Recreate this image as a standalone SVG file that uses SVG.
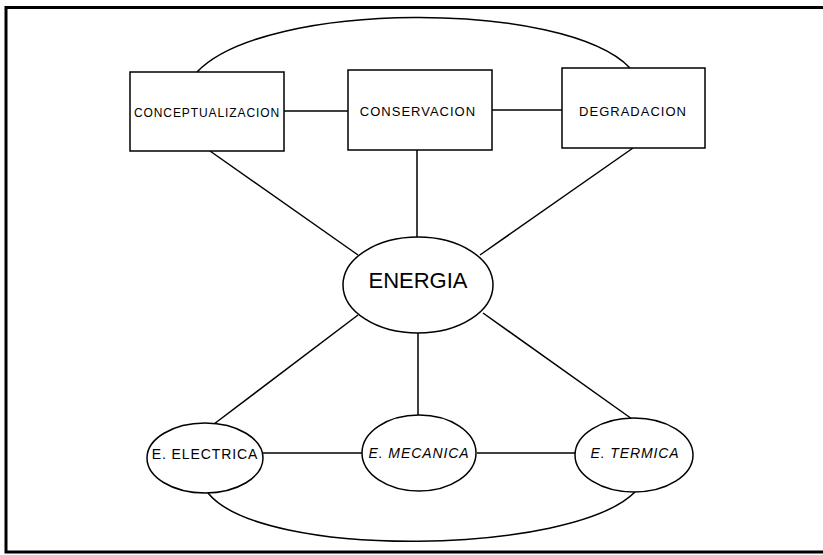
<svg xmlns="http://www.w3.org/2000/svg" width="823" height="555" viewBox="0 0 823 555">
<style>
.frame{fill:none;stroke:#000;stroke-width:3}
.box{fill:#fff;stroke:#000;stroke-width:1.5}
.ell{fill:#fff;stroke:#000;stroke-width:1.5}
.conn{fill:none;stroke:#000;stroke-width:1.5}
text{font-family:"Liberation Sans",Arial,sans-serif;fill:#000;text-anchor:middle}
.small{font-size:12px;letter-spacing:0.9px}
.mid{font-size:13px;letter-spacing:1px}
.big{font-size:22px}
.ov{font-size:14px;letter-spacing:0.9px}
</style>
<rect width="823" height="555" fill="#fff"/>
<g id="frame">
<polyline class="frame" points="823,7.5 6,7.5 6,552 823,552"/>
</g>
<g id="connectors">
<path class="conn" d="M197,72 C265,0 565,0 630,68"/>
<path class="conn" d="M208,493 C262,560 572,555 635,492"/>
<line class="conn" x1="284" y1="111" x2="348" y2="111"/>
<line class="conn" x1="492" y1="110" x2="562" y2="110"/>
<line class="conn" x1="210" y1="151" x2="358" y2="255"/>
<line class="conn" x1="417" y1="150" x2="417" y2="237"/>
<line class="conn" x1="633" y1="148" x2="480" y2="255"/>
<line class="conn" x1="358" y1="315" x2="214" y2="424"/>
<line class="conn" x1="418" y1="333" x2="418" y2="415"/>
<line class="conn" x1="483" y1="313" x2="632" y2="419"/>
<line class="conn" x1="263" y1="453" x2="362" y2="453"/>
<line class="conn" x1="477" y1="453" x2="575" y2="453"/>
</g>
<g id="conceptualizacion">
<rect class="box" x="130" y="72" width="154" height="79"/>
<text class="small" x="207" y="117">CONCEPTUALIZACION</text>
</g>
<g id="conservacion">
<rect class="box" x="348" y="70" width="144" height="80"/>
<text class="mid" x="418" y="116">CONSERVACION</text>
</g>
<g id="degradacion">
<rect class="box" x="562" y="68" width="143" height="80"/>
<text class="mid" x="633" y="116">DEGRADACION</text>
</g>
<g id="energia">
<ellipse class="ell" cx="418" cy="285" rx="75" ry="48"/>
<text class="big" x="418" y="288">ENERGIA</text>
</g>
<g id="e-electrica">
<ellipse class="ell" cx="205" cy="458" rx="58" ry="35"/>
<text class="ov" x="205" y="459">E. ELECTRICA</text>
</g>
<g id="e-mecanica">
<ellipse class="ell" cx="419" cy="453" rx="57" ry="38"/>
<text class="ov" x="419" y="458" font-style="italic">E. MECANICA</text>
</g>
<g id="e-termica">
<ellipse class="ell" cx="634" cy="455" rx="59" ry="37"/>
<text class="ov" x="635" y="458" font-style="italic">E. TERMICA</text>
</g>
</svg>
